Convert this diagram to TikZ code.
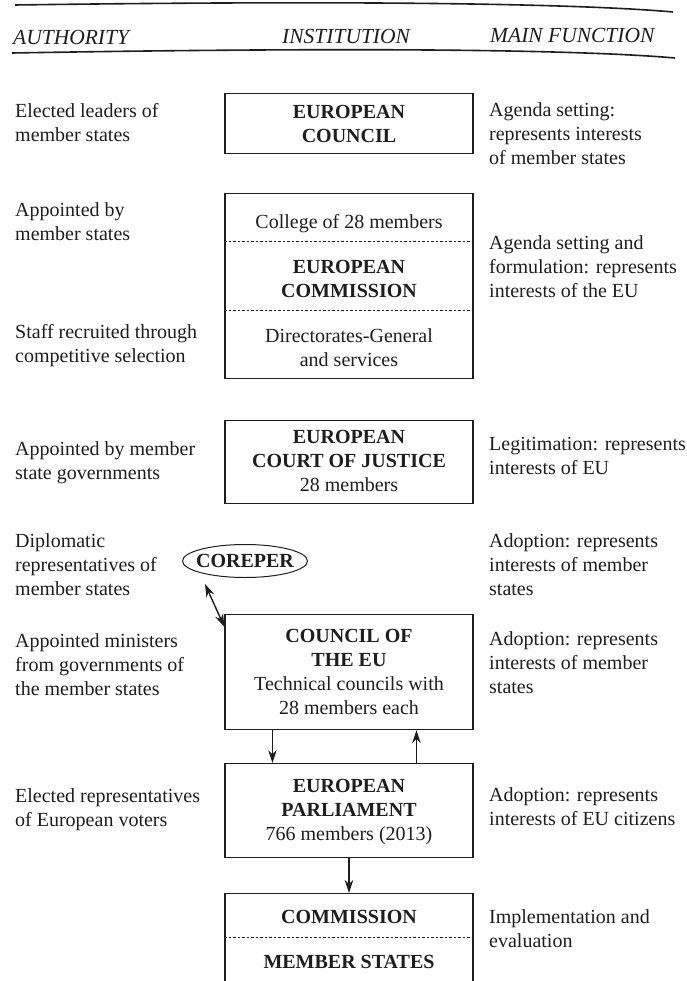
\documentclass[tikz,border=0pt]{standalone}
\usepackage{fontspec}
\setmainfont{Liberation Serif}
\usetikzlibrary{arrows.meta,calc,shapes.geometric}
\newcommand\tabL[1]{\begin{tabular}[t]{@{}l@{}}#1\end{tabular}}
\newcommand\tabC[1]{\begin{tabular}[t]{@{}c@{}}#1\end{tabular}}
\definecolor{ink}{RGB}{30,30,30}
\begin{document}
\begin{tikzpicture}[x=1pt,y=-1pt,
  every node/.style={inner sep=0pt, text=ink, font=\fontsize{20}{24}\selectfont},
  box/.style={draw=ink, line width=1.1pt, minimum width=248, minimum height=#1, anchor=north},
  lefttxt/.style={anchor=base west},
  righttxt/.style={anchor=base west},
  midtxt/.style={anchor=base},
  head/.style={anchor=base west, font=\fontsize{21.5}{24}\selectfont\itshape},
  rule/.style={draw=ink, line width=1.6pt},
  sep/.style={draw=ink, line width=0.8pt, dash pattern=on 2.5pt off 2pt},
  arr/.style={draw=ink, line width=1.3pt, -{Stealth[length=13pt,width=8.5pt]}},
  arrtwo/.style={draw=ink, line width=1.4pt, {Stealth[length=13pt,width=8.5pt]}-{Stealth[length=13pt,width=8.5pt]}}
]
\useasboundingbox (0,0) rectangle (686,981);
\clip (0,0) rectangle (686,981);
\fill[white] (0,0) rectangle (686,981);

% header rules and titles
\draw[rule] (15,5) .. controls (300,1) and (560,2) .. (673,12);
\draw[rule] (12,53) .. controls (300,48) and (560,48) .. (675,58);
\node[head] (hA) at (13,45) {AUTHORITY};
\node[head] (hI) at (282,44) {INSTITUTION};
\node[head] (hM) at (490,43) {MAIN FUNCTION};

% boxes
\node[box=60]  (ec)  at (349,93)  {};
\node[box=185] (com) at (349,193) {};
\node[box=83]  (ecj) at (349,420) {};
\node[box=115] (cou) at (349,614) {};
\node[box=94]  (ep)  at (349,763) {};
\node[box=130] (imp) at (349,893) {};
\node[draw=ink, line width=1pt, ellipse, minimum width=125, minimum height=33] (coreper) at (245,561) {};
\node[font=\fontsize{20}{24}\selectfont\bfseries] (coreperT) at (coreper.center) {COREPER};

% separators
\draw[sep] (com.west |- 0,241) -- (com.east |- 0,241);
\draw[sep] (com.west |- 0,310) -- (com.east |- 0,310);
\draw[sep] (imp.west |- 0,937) -- (imp.east |- 0,937);

% box texts
\node[midtxt, font=\fontsize{20}{24}\selectfont\bfseries] (ecT) at (349,119) {\tabC{EUROPEAN\\COUNCIL}};
\node[midtxt] (comA) at (349,229) {College of 28 members};
\node[midtxt, font=\fontsize{20}{24}\selectfont\bfseries] (comB) at (349,273) {\tabC{EUROPEAN\\COMMISSION}};
\node[midtxt] (comC) at (349,342) {\tabC{Directorates-General\\and services}};
\node[midtxt] (ecjT) at (349,443) {\tabC{\textbf{EUROPEAN}\\\textbf{COURT OF JUSTICE}\\28 members}};
\node[midtxt] (couT) at (349,642) {\tabC{\textbf{COUNCIL OF}\\\textbf{THE EU}\\Technical councils with\\28 members each}};
\node[midtxt] (epT) at (349,792) {\tabC{\textbf{EUROPEAN}\\\textbf{PARLIAMENT}\\766 members (2013)}};
\node[midtxt, font=\fontsize{20}{24}\selectfont\bfseries] (impA) at (349,923) {COMMISSION};
\node[midtxt, font=\fontsize{20}{24}\selectfont\bfseries] (impB) at (349,968) {MEMBER STATES};

% left column
\node[lefttxt] (l1) at (15,118) {\tabL{Elected leaders of\\member states}};
\node[lefttxt] (l2) at (15,217) {\tabL{Appointed by\\member states}};
\node[lefttxt] (l3) at (15,338) {\tabL{Staff recruited through\\competitive selection}};
\node[lefttxt] (l4) at (15,455) {\tabL{Appointed by member\\state governments}};
\node[lefttxt] (l5) at (15,547) {\tabL{Diplomatic\\representatives of\\member states}};
\node[lefttxt] (l6) at (15,647) {\tabL{Appointed ministers\\from governments of\\the member states}};
\node[lefttxt] (l7) at (15,802) {\tabL{Elected representatives\\of European voters}};

% right column
\node[righttxt] (r1) at (489,117) {\tabL{Agenda setting:\\represents interests\\of member states}};
\node[righttxt] (r2) at (489,250) {\tabL{Agenda setting and\\formulation: represents\\interests of the EU}};
\node[righttxt] (r3) at (489,450) {\tabL{Legitimation: represents\\interests of EU}};
\node[righttxt] (r4) at (489,547) {\tabL{Adoption: represents\\interests of member\\states}};
\node[righttxt] (r5) at (489,645) {\tabL{Adoption: represents\\interests of member\\states}};
\node[righttxt] (r6) at (489,801) {\tabL{Adoption: represents\\interests of EU citizens}};
\node[righttxt] (r7) at (489,923) {\tabL{Implementation and\\evaluation}};

% connectors
\draw[arrtwo] ($(coreper.south)+(-40,6)$) -- ($(cou.north west)+(0,13)$);
\draw[arr] ($(cou.south west)+(48,0)$) -- ($(ep.north west)+(48,0)$);
\draw[arr] ($(ep.north west)+(192,0)$) -- ($(cou.south west)+(192,0)$);
\draw[arr] (ep.south) -- (imp.north);
\end{tikzpicture}
\end{document}
